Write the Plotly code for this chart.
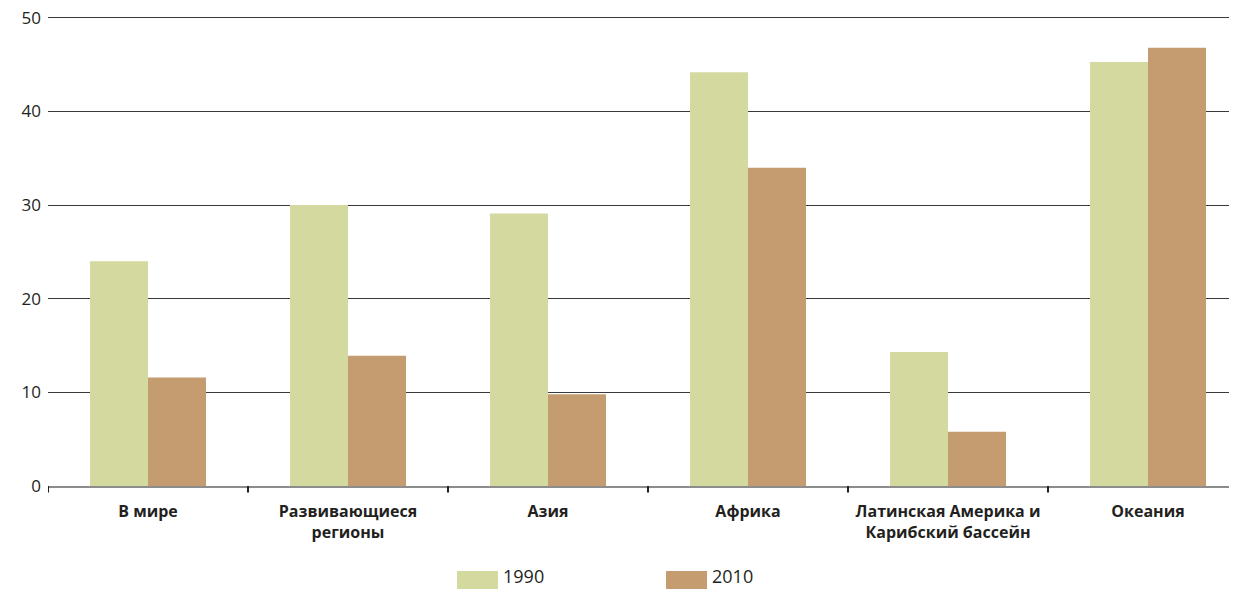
import plotly.graph_objects as go

categories = ["В мире", "Развивающиеся<br>регионы", "Азия", "Африка",
              "Латинская Америка и<br>Карибский бассейн", "Океания"]
values_1990 = [24.0, 30.0, 29.1, 44.2, 14.3, 45.3]
values_2010 = [11.6, 13.9, 9.8, 34.0, 5.8, 46.8]
y_ticks = [0, 10, 20, 30, 40, 50]
series_names = ["1990", "2010"]
series_colors = ["#d4d99f", "#c49c70"]

FONT = "Open Sans"

# the page body adds an 8px offset; size the figure to fill the rest of the window
OFF = 8
W, H = 1237 - OFF, 589 - OFF
L, R, T, B = 40, 0, 8, 103
PW, PH = W - L - R, H - T - B


def px_x(px):
    return (px - OFF - L) / PW


def px_y(py):
    return (H - B - (py - OFF)) / PH


fig = go.Figure()
for name, vals, col in zip(series_names, [values_1990, values_2010], series_colors):
    fig.add_trace(go.Bar(name=name, x=list(range(len(categories))), y=vals,
                         marker=dict(color=col, line=dict(width=0))))

fig.update_layout(
    width=W, height=H,
    margin=dict(l=L, r=R, t=T, b=B, autoexpand=False),
    paper_bgcolor="white", plot_bgcolor="white",
    barmode="group", bargap=0.42, bargroupgap=0,
    font=dict(family=FONT, size=16, color="#231f20"),
    xaxis=dict(
        range=[-0.5, 5.445],
        tickmode="array",
        tickvals=list(range(len(categories))),
        ticktext=[f"<b>{c}</b>" for c in categories],
        showgrid=False,
        showline=True, linecolor="#8c8c8c", linewidth=2,
        ticks="", ticklabelstandoff=10,
        tickfont=dict(size=16, color="#231f20"),
        zeroline=False, automargin=False,
    ),
    yaxis=dict(
        range=[0, 50.2],
        tickmode="array", tickvals=y_ticks,
        showgrid=True, gridcolor="#3a3a3a", gridwidth=1,
        zeroline=False, showline=False,
        ticks="", ticklabelstandoff=6,
        ticklabeloverflow="allow",
        tickfont=dict(size=17, color="#231f20"),
        automargin=False,
    ),
    showlegend=False,
)

# divider ticks between categories along the x axis
for i in range(len(categories) + 1):
    fig.add_shape(type="line", xref="x", yref="paper",
                  x0=i - 0.5, x1=i - 0.5, y0=0, y1=-0.014,
                  line=dict(color="#231f20", width=2))

# legend (swatches + labels)
legend_x = [457, 666]
for name, col, lx in zip(series_names, series_colors, legend_x):
    fig.add_shape(type="rect", xref="paper", yref="paper",
                  x0=px_x(lx), x1=px_x(lx + 41), y0=px_y(571), y1=px_y(590),
                  fillcolor=col, line=dict(width=0))
    fig.add_annotation(xref="paper", yref="paper", x=px_x(lx + 44), y=px_y(576),
                       xanchor="left", yanchor="middle", showarrow=False,
                       text=name, font=dict(size=18, color="#231f20", family=FONT))

fig.write_html("out.html")
